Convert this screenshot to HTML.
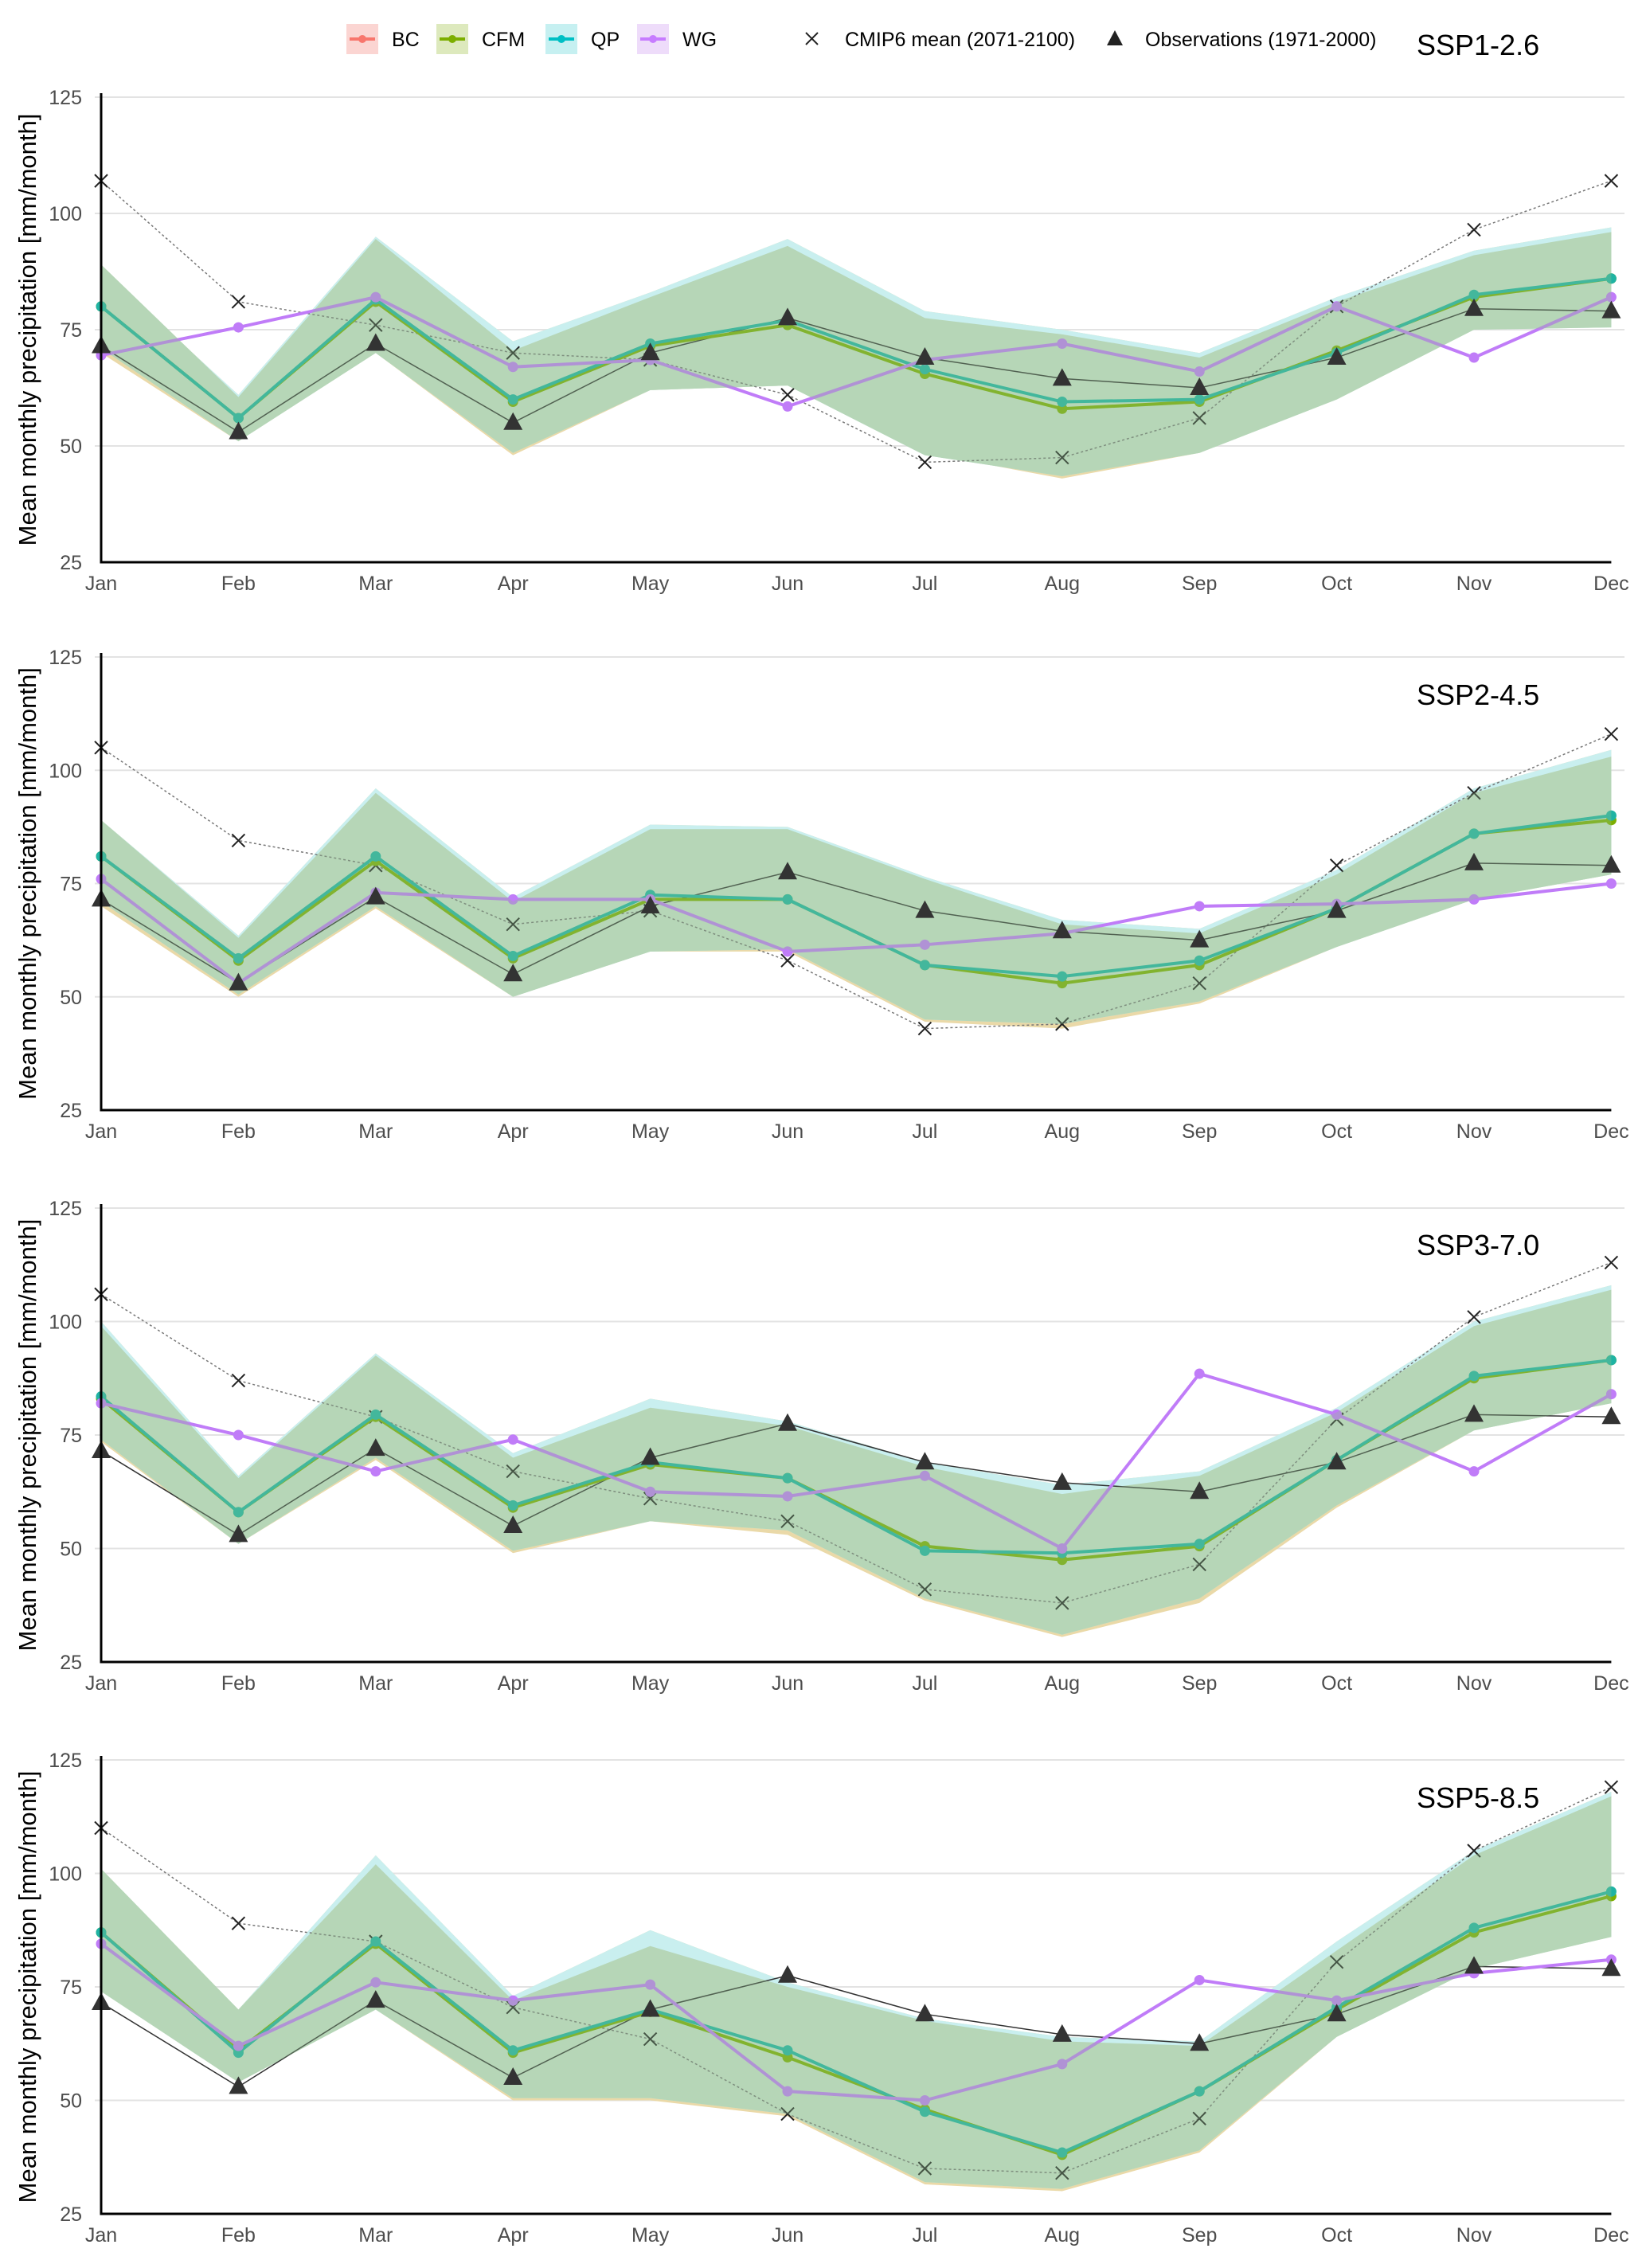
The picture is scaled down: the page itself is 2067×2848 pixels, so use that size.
<!DOCTYPE html>
<html><head><meta charset="utf-8"><style>
html,body{margin:0;padding:0;background:#fff;}
svg{display:block;font-family:"Liberation Sans",Arial,sans-serif;}
</style></head><body>
<svg id="chart" width="2067" height="2848" viewBox="0 0 2067 2848" xmlns="http://www.w3.org/2000/svg">
<g id="legend"></g>
</svg>
<script>
const months = ["Jan","Feb","Mar","Apr","May","Jun","Jul","Aug","Sep","Oct","Nov","Dec"];
const yTicks = [25,50,75,100,125];
const scenarios = ["SSP1-2.6","SSP2-4.5","SSP3-7.0","SSP5-8.5"];
const observations = [71.5,53,72,55,70,77.5,69,64.5,62.5,69,79.5,79];

const cfm1 = [80,56,81,59.5,71.5,76,65.5,58,59.5,70.5,82,86];
const qp1  = [80,56,81.5,60,72,77,66.5,59.5,60,70,82.5,86];
const wg1  = [69.5,75.5,82,67,68.5,58.5,68.5,72,66,80,69,82];
const cmip1 = [107,81,76,70,68.5,61,46.5,47.5,56,80,96.5,107];
const upper1 = [89,60.5,94.5,70.5,82,93,77.5,74,69,81,91,96];
const qpUpper1 = [88,61,95,72.5,83,94.5,79,75,70,82,92,97];
const lower1 = [71,51,70,48.5,62,63,48,43.5,48.5,60,75,75.5];
const bcLower1 = [70,51,70,48,62,63,48.5,43,48.5,60,75,76];

const cfm2 = [81,58,80,58.5,71.5,71.5,57,53,57,69.5,86,89];
const qp2  = [81,58.5,81,59,72.5,71.5,57,54.5,58,69.5,86,90];
const wg2  = [76,53,73,71.5,71.5,60,61.5,64,70,70.5,71.5,75];
const cmip2 = [105,84.5,79,66,69,58,43,44,53,79,95,108];
const upper2 = [89,63,95,71,87,87,76,66,64,77,95,103];
const qpUpper2 = [89,63.5,96,72,88,87.5,76.5,67,65,78,96,104.5];
const lower2 = [71,50.5,70,50,60,60.5,45,44,49,61,71.5,77];
const bcLower2 = [70,50,69.5,50,60,60,44.5,43,48.5,61,71.5,77];

const cfm3 = [83,58,79,59,68.5,65.5,50.5,47.5,50.5,69.5,87.5,91.5];
const qp3  = [83.5,58,79.5,59.5,69,65.5,49.5,49,51,69.5,88,91.5];
const wg3  = [82,75,67,74,62.5,61.5,66,50,88.5,79.5,67,84];
const cmip3 = [106,87,79,67,61,56,41,38,46.5,78.5,101,113];
const upper3 = [99,65.5,92.5,70,81,77,68,62,66,80,99,107];
const qpUpper3 = [100,66,93,71,83,78,69,64,67,81,100,108];
const lower3 = [74,51,70,49.5,56,54,39,31,39,59.5,76,82];
const bcLower3 = [73.5,51,69.5,49,56,53,38.5,30.5,38,59,76,82];

const cfm4 = [87,61,84.5,60.5,69.5,59.5,48,38,52,70,87,95];
const qp4  = [87,60.5,85,61,70,61,47.5,38.5,52,70.5,88,96];
const wg4  = [84.5,62,76,72,75.5,52,50,58,76.5,72,78,81];
const cmip4 = [110,89,85,70.5,63.5,47,35,34,46,80.5,105,119];
const upper4 = [101,70,102,72,84,75,67.5,63,62,83,104,117];
const qpUpper4 = [101,70,104,73,87.5,76,68,64,63,85,105,118];
const lower4 = [74,54,70,50.5,50.5,47,32,30.5,39,64,79,86];
const bcLower4 = [74,54,70,50,50,46.5,31.5,30,38.5,64,79,86];

const panelsData = [
 {cfm:cfm1,qp:qp1,wg:wg1,cmip:cmip1,upper:upper1,qpUpper:qpUpper1,lower:lower1,bcLower:bcLower1},
 {cfm:cfm2,qp:qp2,wg:wg2,cmip:cmip2,upper:upper2,qpUpper:qpUpper2,lower:lower2,bcLower:bcLower2},
 {cfm:cfm3,qp:qp3,wg:wg3,cmip:cmip3,upper:upper3,qpUpper:qpUpper3,lower:lower3,bcLower:bcLower3},
 {cfm:cfm4,qp:qp4,wg:wg4,cmip:cmip4,upper:upper4,qpUpper:qpUpper4,lower:lower4,bcLower:bcLower4}
];

const NS="http://www.w3.org/2000/svg";
const svg=document.getElementById('chart');
function mk(tag,attrs,parent){const e=document.createElementNS(NS,tag);for(const k in attrs)e.setAttribute(k,attrs[k]);(parent||svg).appendChild(e);return e;}
const X0=127, DX=172.4, XR=2040;
const layout=[[122,706],[825,1394],[1517,2087],[2210,2780]];
const titleY=[56,872,1563,2257];
function xs(i){return X0+i*DX;}

panelsData.forEach((d,p)=>{
  const [top,bot]=layout[p];
  const ys=v=>bot-(v-25)/100*(bot-top);
  const g=mk('g',{});
  
  
  yTicks.forEach(t=>{
    if(t>25){const l=mk('line',{x1:X0-8,x2:XR,y1:ys(t),y2:ys(t),stroke:'#e3e3e3','stroke-width':2},g);
    }
    const tx=mk('text',{x:103,y:ys(t)+9,'text-anchor':'end','font-size':25,fill:'#4d4d4d'},g);
    tx.textContent=t;
    
  });
  months.forEach((m,i)=>{
    const tx=mk('text',{x:xs(i),y:bot+35,'text-anchor':'middle','font-size':25,fill:'#4d4d4d'},g);
    tx.textContent=m;
    
  });
  const yt=mk('text',{transform:`translate(45 ${(top+bot)/2}) rotate(-90)`,'text-anchor':'middle','font-size':31,fill:'#000'},g);
  yt.textContent='Mean monthly precipitation [mm/month]';
  
  const band=(up,lo,fill,op,name)=>{
    let pts=up.map((v,i)=>xs(i)+','+ys(v)).concat(lo.map((v,i)=>xs(i)+','+ys(v)).reverse());
    const b=mk('polygon',{points:pts.join(' '),fill:fill,'fill-opacity':op},g);
    
  };
  band(d.qpUpper,d.bcLower,'#ead9a8',1,'bc-band');
  band(d.qpUpper,d.lower,'#c9efef',1,'qp-band');
  band(d.upper,d.lower,'#c9e1cb',1,'cfm-band');
  const line=(arr,color,w,dash,name)=>{
    const pl=mk('polyline',{points:arr.map((v,i)=>xs(i)+','+ys(v)).join(' '),fill:'none',stroke:color,'stroke-width':w},g);
    if(dash)pl.setAttribute('stroke-dasharray',dash);
    
  };
  line(d.cmip,'#777',1.5,'3 3','cmip6-line');
  d.cmip.forEach((v,i)=>{
    const c=mk('path',{d:`M${xs(i)-8},${ys(v)-8}L${xs(i)+8},${ys(v)+8}M${xs(i)-8},${ys(v)+8}L${xs(i)+8},${ys(v)-8}`,stroke:'#222','stroke-width':2,fill:'none'},g);
    
  });
  line(observations,'#333',1.5,null,'observations-line');
  const series=[[d.cfm,'#7cae00','cfm'],[d.qp,'#1fb3a3','qp'],[d.wg,'#c07cf8','wg']];
  series.forEach(([arr,col,nm])=>{
    line(arr,col,4,null,nm+'-line');
    arr.forEach((v,i)=>{const c=mk('circle',{cx:xs(i),cy:ys(v),r:6.5,fill:col},g);
      });
  });
  band(d.upper,d.lower,'#8fc08f',0.33,'cfm-band-overlay');
  observations.forEach((v,i)=>{
    const t=mk('path',{d:`M${xs(i)},${ys(v)-13}L${xs(i)+12},${ys(v)+9}L${xs(i)-12},${ys(v)+9}Z`,fill:'#333'},g);
    
  });
  const ax=mk('path',{d:`M${X0},${top-5}L${X0},${bot}L${xs(11)},${bot}`,stroke:'#000','stroke-width':3,fill:'none'},g);
  
  const tt=mk('text',{x:1779,y:titleY[p]+13,'font-size':36,fill:'#000'},g);
  tt.textContent=scenarios[p];
  
});

const lg=document.getElementById('legend');
const keys=[['BC','#f8766d','#fbd5d2',435],['CFM','#7cae00','#dde9bd',548],['QP','#00bfc4','#c6f0f1',685],['WG','#c77cff','#eedcfa',800]];
keys.forEach(([n,c,bg,x])=>{
  const k=mk('g',{},lg);
  
  mk('rect',{x:x,y:30,width:40,height:38,fill:bg},k);
  mk('line',{x1:x+4,x2:x+36,y1:49,y2:49,stroke:c,'stroke-width':4},k);
  mk('circle',{cx:x+20,cy:49,r:5,fill:c},k);
  const t=mk('text',{x:x+57,y:58,'font-size':25,fill:'#000'},k);t.textContent=n;
});
const k1=mk('g',{},lg);

mk('path',{d:'M1012,41L1027,56M1012,56L1027,41',stroke:'#222','stroke-width':2},k1);
mk('text',{x:1061,y:58,'font-size':25,fill:'#000'},k1).textContent='CMIP6 mean (2071-2100)';
const k2=mk('g',{},lg);

mk('path',{d:'M1400,38L1410,57L1390,57Z',fill:'#222'},k2);
mk('text',{x:1438,y:58,'font-size':25,fill:'#000'},k2).textContent='Observations (1971-2000)';
</script>
</body></html>
